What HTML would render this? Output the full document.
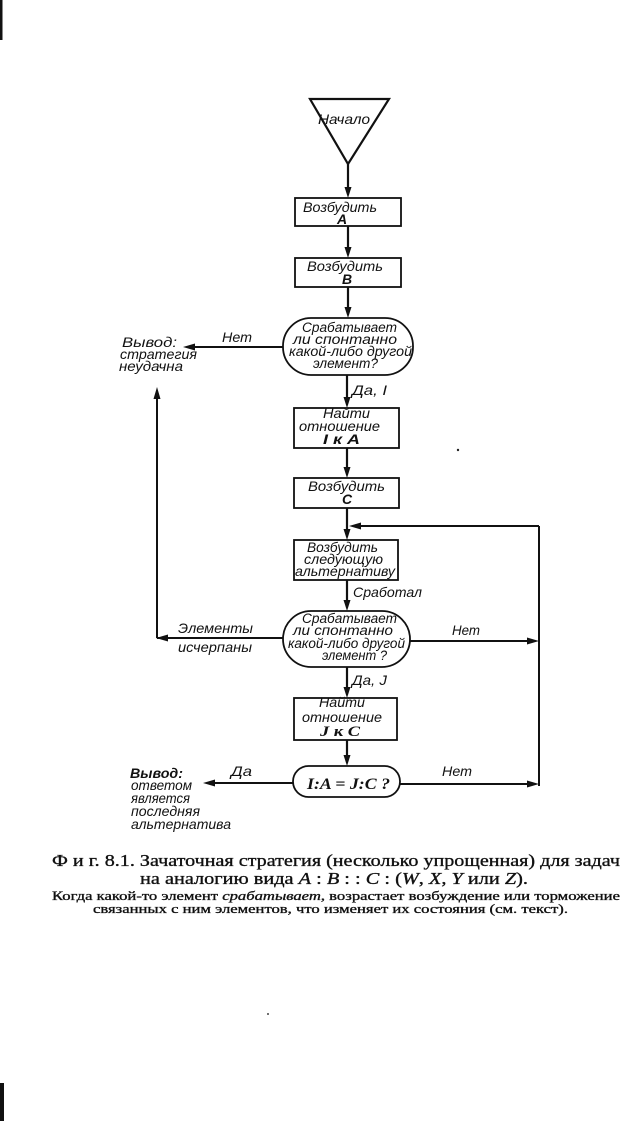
<!DOCTYPE html>
<html>
<head>
<meta charset="utf-8">
<style>
html,body{margin:0;padding:0;background:#fff;}
svg{display:block;}
.f{font-family:"Liberation Sans","DejaVu Sans",sans-serif;font-style:italic;font-size:14px;fill:#111;}
.d{font-size:13.5px;}
.b{font-weight:bold;}
.s{font-family:"Liberation Serif","DejaVu Serif",serif;fill:#111;}
.cap{stroke:#111;stroke-width:0.35;}
</style>
</head>
<body>
<svg width="620" height="1121" viewBox="0 0 620 1121" xmlns="http://www.w3.org/2000/svg">
<rect width="620" height="1121" fill="#fff"/>
<!-- page edge marks -->
<rect x="0" y="0" width="2.5" height="40" fill="#111"/>
<rect x="0" y="1083" width="4" height="38" fill="#111"/>
<circle cx="458" cy="450" r="1.2" fill="#222"/>
<circle cx="268" cy="1014" r="1" fill="#444"/>

<g stroke="#111" fill="none">
  <!-- triangle -->
  <polygon points="310,99 389,99 348,164" stroke-width="2.2"/>
  <!-- boxes -->
  <rect x="295" y="198" width="106" height="28" stroke-width="1.8"/>
  <rect x="295" y="258" width="106" height="29" stroke-width="1.8"/>
  <rect x="283" y="318" width="130" height="57" rx="28" ry="28" stroke-width="1.8"/>
  <rect x="294" y="408" width="105" height="40" stroke-width="1.8"/>
  <rect x="294" y="478" width="105" height="30" stroke-width="1.8"/>
  <rect x="294" y="540" width="104" height="40" stroke-width="1.8"/>
  <rect x="283" y="611" width="127" height="56" rx="28" ry="28" stroke-width="1.8"/>
  <rect x="294" y="698" width="103" height="42" stroke-width="1.8"/>
  <rect x="293" y="766" width="107" height="31" rx="15.5" ry="15.5" stroke-width="1.8"/>

  <!-- main vertical connectors -->
  <line x1="348" y1="164" x2="348" y2="190" stroke-width="2.2"/>
  <line x1="348" y1="226" x2="348" y2="250" stroke-width="2.2"/>
  <line x1="348" y1="287" x2="348" y2="310" stroke-width="2.2"/>
  <line x1="347" y1="375" x2="347" y2="400" stroke-width="2.2"/>
  <line x1="347" y1="448" x2="347" y2="470" stroke-width="2.2"/>
  <line x1="347" y1="508" x2="347" y2="532" stroke-width="2.2"/>
  <line x1="347" y1="580" x2="347" y2="603" stroke-width="2.2"/>
  <line x1="347" y1="667" x2="347" y2="690" stroke-width="2.2"/>
  <line x1="347" y1="740" x2="347" y2="758" stroke-width="2.2"/>

  <!-- left branch 1 -->
  <line x1="283" y1="347" x2="192" y2="347" stroke-width="2"/>
  <!-- left branch 2 + vertical -->
  <line x1="283" y1="638" x2="157" y2="638" stroke-width="2"/>
  <line x1="157" y1="638" x2="157" y2="396" stroke-width="2"/>
  <!-- right loop -->
  <line x1="410" y1="641" x2="530" y2="641" stroke-width="2"/>
  <line x1="539" y1="526" x2="539" y2="786" stroke-width="2"/>
  <line x1="539" y1="526" x2="358" y2="526" stroke-width="2"/>
  <line x1="400" y1="784" x2="530" y2="784" stroke-width="2"/>
  <!-- bottom left -->
  <line x1="293" y1="783" x2="212" y2="783" stroke-width="2"/>
</g>

<!-- arrowheads -->
<g fill="#111">
  <polygon points="344.5,187 351.5,187 348,198"/>
  <polygon points="344.5,247 351.5,247 348,258"/>
  <polygon points="344.5,307 351.5,307 348,318"/>
  <polygon points="343.5,397 350.5,397 347,408"/>
  <polygon points="343.5,467 350.5,467 347,478"/>
  <polygon points="343.5,529 350.5,529 347,540"/>
  <polygon points="343.5,600 350.5,600 347,611"/>
  <polygon points="343.5,687 350.5,687 347,698"/>
  <polygon points="343.5,755 350.5,755 347,766"/>
  <!-- left pointing -->
  <polygon points="195,343.5 195,350.5 183,347"/>
  <polygon points="168,634.5 168,641.5 156,638"/>
  <polygon points="361,522.5 361,529.5 349,526"/>
  <polygon points="215,779.5 215,786.5 203,783"/>
  <!-- up -->
  <polygon points="153.5,399 160.5,399 157,387"/>
  <!-- right pointing -->
  <polygon points="527,637.5 527,644.5 539,641"/>
  <polygon points="527,780.5 527,787.5 539,784"/>
</g>

<!-- flowchart labels -->
<text class="f" x="318" y="124" font-size="15" textLength="52" lengthAdjust="spacingAndGlyphs">Начало</text>

<text class="f" x="303" y="212" textLength="74" lengthAdjust="spacingAndGlyphs">Возбудить</text>
<text class="f b" x="342" y="224" text-anchor="middle">A</text>

<text class="f" x="307" y="271" textLength="76" lengthAdjust="spacingAndGlyphs">Возбудить</text>
<text class="f b" x="347" y="284" text-anchor="middle">B</text>

<text class="f d" x="302" y="332" textLength="95" lengthAdjust="spacingAndGlyphs">Срабатывает</text>
<text class="f d" x="293" y="344" textLength="104" lengthAdjust="spacingAndGlyphs">ли  спонтанно</text>
<text class="f d" x="289" y="356" textLength="123" lengthAdjust="spacingAndGlyphs">какой-либо другой</text>
<text class="f d" x="313" y="368" textLength="65" lengthAdjust="spacingAndGlyphs">элемент?</text>

<text class="f" x="222" y="342" textLength="30" lengthAdjust="spacingAndGlyphs">Нет</text>
<text class="f" x="122" y="347" textLength="55" lengthAdjust="spacingAndGlyphs">Вывод:</text>
<text class="f" x="120" y="359" textLength="77" lengthAdjust="spacingAndGlyphs">стратегия</text>
<text class="f" x="119" y="371" textLength="64" lengthAdjust="spacingAndGlyphs">неудачна</text>

<text class="f" x="352" y="395" textLength="35" lengthAdjust="spacingAndGlyphs">Да, I</text>

<text class="f" x="323" y="418" textLength="47" lengthAdjust="spacingAndGlyphs">Найти</text>
<text class="f" x="299" y="431" textLength="81" lengthAdjust="spacingAndGlyphs">отношение</text>
<text class="f b" x="323" y="444" textLength="37" lengthAdjust="spacingAndGlyphs">I к A</text>

<text class="f" x="308" y="491" textLength="77" lengthAdjust="spacingAndGlyphs">Возбудить</text>
<text class="f b" x="347" y="504" text-anchor="middle">C</text>

<text class="f" x="307" y="552" textLength="71" lengthAdjust="spacingAndGlyphs">Возбудить</text>
<text class="f" x="304" y="564" textLength="79" lengthAdjust="spacingAndGlyphs">следующую</text>
<text class="f" x="295" y="576" textLength="100" lengthAdjust="spacingAndGlyphs">альтернативу</text>

<text class="f" x="353" y="597" textLength="69" lengthAdjust="spacingAndGlyphs">Сработал</text>

<text class="f d" x="302" y="623" textLength="95" lengthAdjust="spacingAndGlyphs">Срабатывает</text>
<text class="f d" x="293" y="635" textLength="100" lengthAdjust="spacingAndGlyphs">ли  спонтанно</text>
<text class="f d" x="288" y="648" textLength="117" lengthAdjust="spacingAndGlyphs">какой-либо другой</text>
<text class="f d" x="322" y="660" textLength="65" lengthAdjust="spacingAndGlyphs">элемент ?</text>

<text class="f" x="178" y="633" textLength="75" lengthAdjust="spacingAndGlyphs">Элементы</text>
<text class="f" x="178" y="652" textLength="74" lengthAdjust="spacingAndGlyphs">исчерпаны</text>
<text class="f" x="452" y="635" textLength="28" lengthAdjust="spacingAndGlyphs">Нет</text>

<text class="f" x="352" y="685" textLength="35" lengthAdjust="spacingAndGlyphs">Да, J</text>

<text class="f" x="319" y="707" textLength="46" lengthAdjust="spacingAndGlyphs">Найти</text>
<text class="f" x="302" y="722" textLength="80" lengthAdjust="spacingAndGlyphs">отношение</text>
<text class="s b" x="320" y="736" font-size="15" font-style="italic" textLength="40" lengthAdjust="spacingAndGlyphs">J к C</text>

<text class="s b" x="307" y="789" font-size="16" font-style="italic" textLength="83" lengthAdjust="spacingAndGlyphs">I:A = J:C ?</text>

<text class="f" x="231" y="776" textLength="21" lengthAdjust="spacingAndGlyphs">Да</text>
<text class="f" x="442" y="776" textLength="30" lengthAdjust="spacingAndGlyphs">Нет</text>

<text class="f b" x="130" y="778" textLength="53" lengthAdjust="spacingAndGlyphs">Вывод:</text>
<text class="f" x="131" y="790" textLength="61" lengthAdjust="spacingAndGlyphs">ответом</text>
<text class="f" x="131" y="803" textLength="59" lengthAdjust="spacingAndGlyphs">является</text>
<text class="f" x="131" y="816" textLength="69" lengthAdjust="spacingAndGlyphs">последняя</text>
<text class="f" x="131" y="829" textLength="100" lengthAdjust="spacingAndGlyphs">альтернатива</text>

<!-- caption -->
<text class="s cap" x="52" y="866" font-size="17" textLength="568" lengthAdjust="spacingAndGlyphs">Ф и г.  8.1. Зачаточная стратегия (несколько упрощенная) для задач</text>
<text class="s cap" x="140" y="884" font-size="17" textLength="388" lengthAdjust="spacingAndGlyphs">на аналогию вида <tspan font-style="italic">A</tspan> : <tspan font-style="italic">B</tspan> : : <tspan font-style="italic">C</tspan> : (<tspan font-style="italic">W</tspan>, <tspan font-style="italic">X</tspan>, <tspan font-style="italic">Y</tspan> или <tspan font-style="italic">Z</tspan>).</text>
<text class="s cap" x="52" y="900" font-size="13" textLength="568" lengthAdjust="spacingAndGlyphs">Когда какой-то элемент <tspan font-style="italic">срабатывает</tspan>, возрастает возбуждение или торможение</text>
<text class="s cap" x="93" y="913" font-size="13" textLength="475" lengthAdjust="spacingAndGlyphs">связанных с ним элементов, что изменяет их состояния (см. текст).</text>
</svg>
</body>
</html>
